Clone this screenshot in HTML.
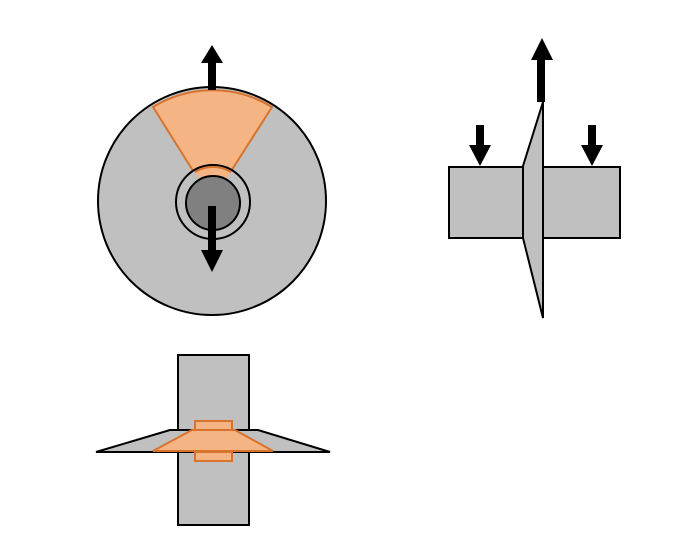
<!DOCTYPE html>
<html><head><style>body{margin:0;background:#fff}</style></head><body>
<svg width="700" height="538" viewBox="0 0 700 538" xmlns="http://www.w3.org/2000/svg">
<circle cx="212" cy="201" r="114" fill="#c0c0c0" stroke="#000" stroke-width="2"/>
<path d="M212,201 L153,107 A114,114 0 0 1 272,107 Z" fill="#f4b483" stroke="#d8732e" stroke-width="2"/>
<circle cx="213" cy="202" r="37" fill="#c0c0c0" stroke="#000" stroke-width="2"/>
<path d="M195,172 A34,34 0 0 1 231,172 L225,181 A27,27 0 0 0 201,181 Z" fill="#f4b483" stroke="none"/>
<path d="M195,172 A34,34 0 0 1 231,172" fill="none" stroke="#d8732e" stroke-width="2"/>
<circle cx="213" cy="203" r="27" fill="#808080" stroke="#000" stroke-width="2"/>
<rect x="208" y="62" width="8" height="28" fill="#000"/>
<polygon points="201,63 223,63 212,45" fill="#000"/>
<rect x="208" y="206" width="8" height="46" fill="#000"/>
<polygon points="201,250 223,250 212,272" fill="#000"/>
<rect x="178" y="355" width="71" height="170" fill="#c0c0c0" stroke="#000" stroke-width="2"/>
<polygon points="96,452 170,430 258,430 330,452" fill="#c0c0c0" stroke="#000" stroke-width="2"/>
<rect x="195" y="421" width="37" height="9" fill="#f4b483" stroke="#d8732e" stroke-width="2"/>
<rect x="195" y="452" width="37" height="9" fill="#f4b483" stroke="#d8732e" stroke-width="2"/>
<polygon points="153,451 192,430 235,430 273,451" fill="#f4b483" stroke="#d8732e" stroke-width="2"/>
<rect x="449" y="167" width="171" height="71" fill="#c0c0c0" stroke="#000" stroke-width="2"/>
<polygon points="543,102 543,318 523,238 523,166" fill="#c0c0c0" stroke="#000" stroke-width="2"/>
<rect x="537" y="58" width="8" height="44" fill="#000"/>
<polygon points="531,60 553,60 542,38" fill="#000"/>
<rect x="476" y="125" width="8" height="22" fill="#000"/>
<polygon points="469,145 491,145 480,166" fill="#000"/>
<rect x="588" y="125" width="8" height="22" fill="#000"/>
<polygon points="581,145 603,145 592,166" fill="#000"/>
</svg>
</body></html>
